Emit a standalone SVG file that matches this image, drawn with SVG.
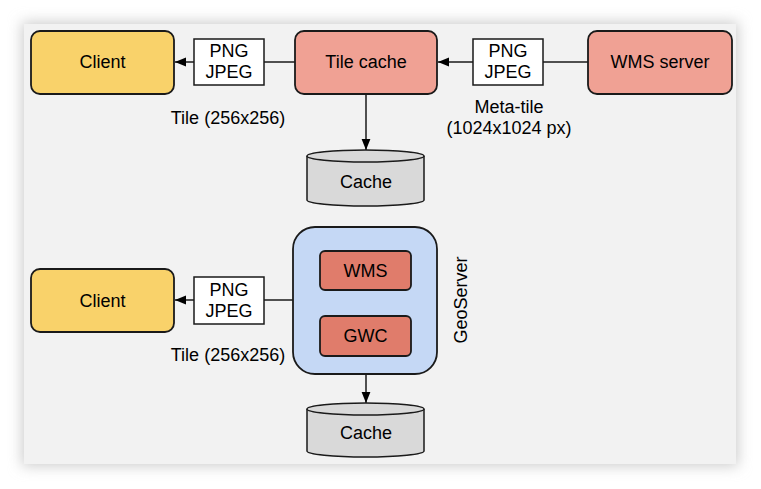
<svg xmlns="http://www.w3.org/2000/svg" width="761" height="489" viewBox="0 0 761 489">
<defs>
<filter id="sh" x="-10%" y="-10%" width="120%" height="120%"><feGaussianBlur stdDeviation="7"/></filter>
<marker id="ah" viewBox="0 0 10 10" refX="10" refY="5" markerWidth="11" markerHeight="11" markerUnits="userSpaceOnUse" orient="auto"><path d="M0,1 L10,5 L0,9 Z" fill="#000"/></marker>
</defs>
<style>
text{font-family:"Liberation Sans",Arial,sans-serif;font-size:18px;fill:#000;text-anchor:middle}
.box{stroke:#1a1a1a;stroke-width:1.8}
.client{fill:#f9d26a}
.salmon{fill:#f0a194}
.red{fill:#e07c6b}
.fmt{fill:#fff;stroke:#1a1a1a;stroke-width:1.5}
.cyl{fill:#d9d9d9;stroke:#1a1a1a;stroke-width:1.5}
.ln{stroke:#1a1a1a;stroke-width:1.5;fill:none}
</style>
<rect width="761" height="489" fill="#fff"/>
<rect x="22" y="22" width="716" height="444" fill="#ccc" filter="url(#sh)"/>
<rect x="24" y="24" width="712" height="440" fill="#f2f2f2"/>

<g id="connectors">
<line class="ln" x1="194" y1="62" x2="175" y2="62" marker-end="url(#ah)"/>
<line class="ln" x1="295" y1="62" x2="264" y2="62"/>
<line class="ln" x1="473" y1="62" x2="438" y2="62" marker-end="url(#ah)"/>
<line class="ln" x1="588" y1="62" x2="543" y2="62"/>
<line class="ln" x1="366" y1="94" x2="366" y2="150" marker-end="url(#ah)"/>
<line class="ln" x1="194" y1="300" x2="175" y2="300" marker-end="url(#ah)"/>
<line class="ln" x1="293" y1="300" x2="264" y2="300"/>
<line class="ln" x1="366" y1="356" x2="366" y2="403" marker-end="url(#ah)"/>
</g>

<g id="client1"><rect class="box client" x="31" y="31" width="143" height="63" rx="9"/><text x="102.5" y="68">Client</text></g>
<g id="fmt1"><rect class="fmt" x="194" y="39" width="70" height="46"/><text x="229" y="57">PNG</text><text x="229" y="78">JPEG</text></g>
<g id="tilecache"><rect class="box salmon" x="295" y="31" width="142" height="63" rx="9"/><text x="366" y="68">Tile cache</text></g>
<g id="fmt2"><rect class="fmt" x="473" y="39" width="70" height="46"/><text x="508" y="57">PNG</text><text x="508" y="78">JPEG</text></g>
<g id="wms-server"><rect class="box salmon" x="588" y="31" width="144" height="63" rx="9"/><text x="660" y="68">WMS server</text></g>
<g id="label-tile1"><text x="228" y="124">Tile (256x256)</text></g>
<g id="label-meta"><text x="509" y="113">Meta-tile</text><text x="509" y="134">(1024x1024 px)</text></g>
<g id="cache1"><path class="cyl" d="M307,156 L307,200 A58.5,6 0 0 0 424,200 L424,156"/><ellipse class="cyl" cx="365.5" cy="156" rx="58.5" ry="6"/><text x="366" y="188">Cache</text></g>

<g id="client2"><rect class="box client" x="31" y="269" width="143" height="63" rx="9"/><text x="102.5" y="307">Client</text></g>
<g id="fmt3"><rect class="fmt" x="194" y="277" width="70" height="47"/><text x="229" y="296">PNG</text><text x="229" y="317">JPEG</text></g>
<g id="label-tile2"><text x="228" y="361">Tile (256x256)</text></g>
<g id="geoserver"><rect class="box" fill="#c5d8f5" x="293" y="227" width="144" height="147" rx="22"/>
<text transform="translate(467,300) rotate(-90)" y="0">GeoServer</text></g>
<g id="wms"><rect class="box red" x="320" y="251" width="91" height="39" rx="5"/><text x="365.5" y="277">WMS</text></g>
<g id="gwc"><rect class="box red" x="320" y="316" width="91" height="40" rx="5"/><text x="365.5" y="342">GWC</text></g>
<g id="cache2"><path class="cyl" d="M307,409 L307,451 A58.5,6 0 0 0 424,451 L424,409"/><ellipse class="cyl" cx="365.5" cy="409" rx="58.5" ry="6"/><text x="366" y="439">Cache</text></g>
</svg>
